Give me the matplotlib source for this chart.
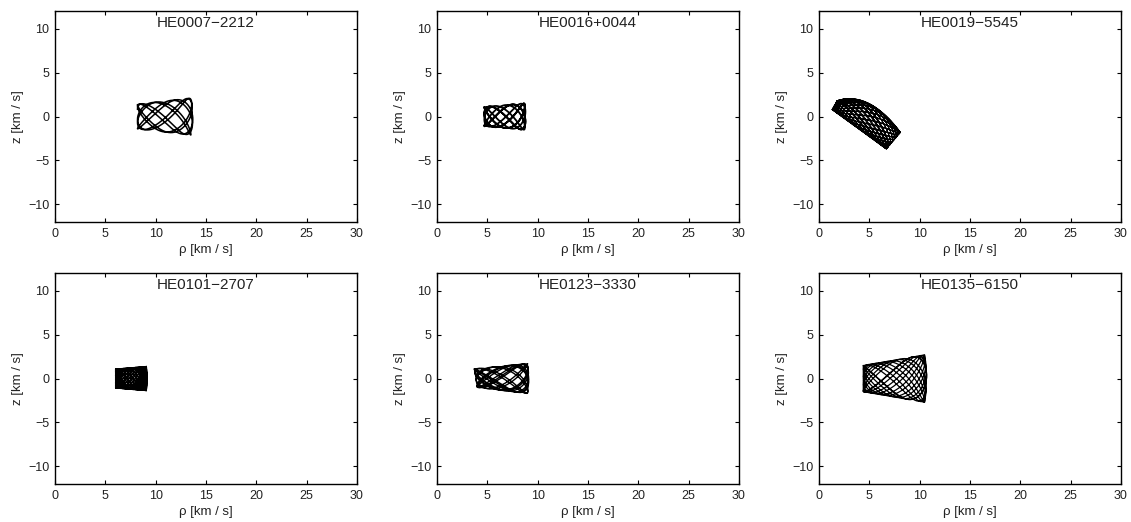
import numpy as np
import matplotlib.pyplot as plt

plt.rcParams['font.family'] = ['Liberation Sans', 'DejaVu Sans']
plt.rcParams['text.color'] = '#222222'
plt.rcParams['axes.labelcolor'] = '#222222'
plt.rcParams['xtick.labelcolor'] = '#222222'
plt.rcParams['ytick.labelcolor'] = '#222222'

# star names, one panel each
names = ['HE0007\u22122212', 'HE0016+0044', 'HE0019\u22125545',
         'HE0101\u22122707', 'HE0123\u22123330', 'HE0135\u22126150']

# orbit envelope (rho, z) in km/s
inner_top = [(8.2, 1.4), (4.7, 1.1), (1.8, 1.8), (6.0, 1.1), (3.7, 1.1), (4.4, 1.5)]
inner_bot = [(8.2, -1.4), (4.7, -1.1), (1.3, 0.8), (6.0, -1.1), (4.0, -1.0), (4.4, -1.5)]
outer_top = [(13.5, 2.1), (8.7, 1.5), (8.1, -1.8), (9.1, 1.4), (9.0, 1.7), (10.5, 2.7)]
outer_bot = [(13.5, -2.1), (8.7, -1.5), (6.7, -3.7), (9.1, -1.4), (9.0, -1.7), (10.5, -2.7)]
outer_bulge = [0.2, 0.1, 0.0, 0.05, 0.1, 0.2]
top_bulge = [0.0, 0.0, 1.5, 0.0, 0.0, 0.0]

# radial oscillations shown and vertical/radial frequency ratio
n_radial = [5, 6, 24, 18, 9, 10]
freq_ratio = [1.62, 1.75, 1.045, 1.88, 1.42, 1.55]
line_w = [1.1, 1.3, 0.7, 0.6, 1.0, 0.9]

fig = plt.figure(figsize=(11.31, 5.22), dpi=100)

lefts = [0.0486, 0.3864, 0.7241]
bottoms = [0.5747, 0.0728]
width, height = 0.267, 0.404

for i, name in enumerate(names):
    ax = fig.add_axes([lefts[i % 3], bottoms[i // 3], width, height])

    t = np.linspace(0, 2 * np.pi * n_radial[i], 15000)
    u = -np.cos(t)
    v = np.cos(freq_ratio[i] * t + 0.3)
    corners = [np.array(c) for c in (inner_top[i], inner_bot[i], outer_top[i], outer_bot[i])]
    w = [(1 - u) * (1 + v) / 4, (1 - u) * (1 - v) / 4,
         (1 + u) * (1 + v) / 4, (1 + u) * (1 - v) / 4]
    rho = sum(wk * c[0] for wk, c in zip(w, corners))
    z = sum(wk * c[1] for wk, c in zip(w, corners))
    rho = rho + outer_bulge[i] * (1 - v ** 2) * (1 + u) / 2
    z = z + top_bulge[i] * (1 - u ** 2) * (1 + v) / 2

    ax.plot(rho, z, color='black', linewidth=line_w[i])

    ax.set_xlim(0, 30)
    ax.set_ylim(-12, 12)
    ax.set_xticks(np.arange(0, 31, 5))
    ax.set_yticks([-10, -5, 0, 5, 10])
    ax.tick_params(direction='in', top=True, right=True, length=3,
                   labelsize=9, pad=4)
    for s in ax.spines.values():
        s.set_linewidth(1.0)
    ax.set_xlabel('\u03c1 [km / s]', fontsize=9.5, labelpad=3)
    ax.set_ylabel('z [km / s]', fontsize=9.5, labelpad=3)
    ax.text(0.5, 0.975, name, transform=ax.transAxes, ha='center', va='top',
            fontsize=11)

fig.savefig('out.png', dpi=100)
